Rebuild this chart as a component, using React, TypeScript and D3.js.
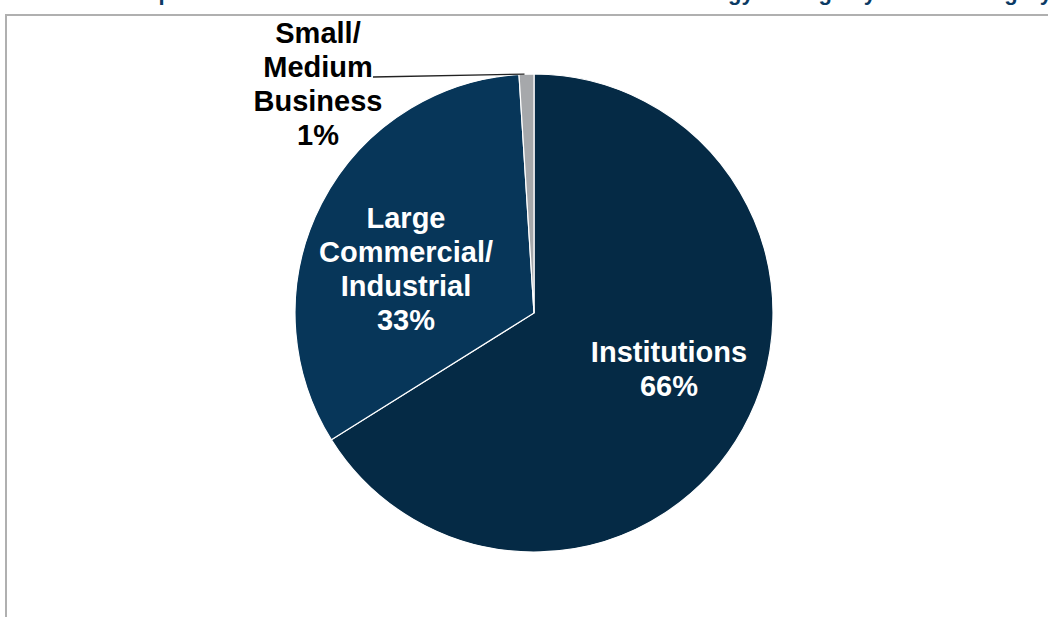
import React from "react";
import * as d3 from "d3";

const categories = ["Institutions", "Large Commercial/Industrial", "Small/Medium Business"];
const values = [66.1, 32.9, 1.0];
const labelLines = [["Institutions"], ["Large", "Commercial/", "Industrial"], ["Small/", "Medium", "Business"]];
const colors = ["#052a45", "#073659", "#a6a8ab"];
const titleText = "Composition of Total Net Annual Electric Demand and Energy Savings by Sector Category";

const W = 1048;
const H = 617;
const cx = 534;
const cy = 313;
const R = 239;

export default function App() {
  const pie = d3.pie<number>().sort(null).startAngle(0).endAngle(2 * Math.PI);
  const arcs = pie(values);
  const arcGen = d3.arc<d3.PieArcDatum<number>>().innerRadius(0).outerRadius(R);
  const font = "'Liberation Sans', Arial, sans-serif";
  const fs = 29;
  const lh = 34;
  const labelPos = [
    { x: 669 - cx, y: 362 - cy, color: "#ffffff" },
    { x: 406 - cx, y: 228 - cy, color: "#ffffff" },
    { x: 318 - cx, y: 43 - cy, color: "#000000" },
  ];
  const smallArc = arcs[2];
  const midA = (smallArc.startAngle + smallArc.endAngle) / 2;
  const edge = [Math.sin(midA) * R, -Math.cos(midA) * R];

  return (
    <div style={{ position: "absolute", left: 0, top: 0, width: W, height: H, overflow: "hidden", background: "#fff" }}>
      <svg width={W} height={H} style={{ display: "block" }}>
        <text x={1052} y={0} textAnchor="end" fontFamily={font} fontWeight="bold" fontSize={22} fill="#0b3a64">
          {titleText}
        </text>
        <rect x={6} y={15} width={W + 20} height={H + 20} fill="#fff" stroke="#b0b0b0" strokeWidth={2} />
        <g transform={`translate(${cx},${cy})`}>
          {arcs.map((a, i) => (
            <path key={categories[i]} d={arcGen(a) || ""} fill={colors[i]} stroke="#ffffff" strokeWidth={1.2} />
          ))}
          <line x1={373 - cx} y1={77 - cy} x2={edge[0] - 2} y2={edge[1]} stroke="#222" strokeWidth={1.3} />
          {arcs.map((a, i) => {
            const lines = [...labelLines[i], `${Math.round(values[i])}%`];
            const p = labelPos[i];
            return (
              <text key={"l" + i} textAnchor="middle" fontFamily={font} fontWeight="bold" fontSize={fs} fill={p.color}>
                {lines.map((t, j) => (
                  <tspan key={j} x={p.x} y={p.y + j * lh}>
                    {t}
                  </tspan>
                ))}
              </text>
            );
          })}
        </g>
      </svg>
    </div>
  );
}
